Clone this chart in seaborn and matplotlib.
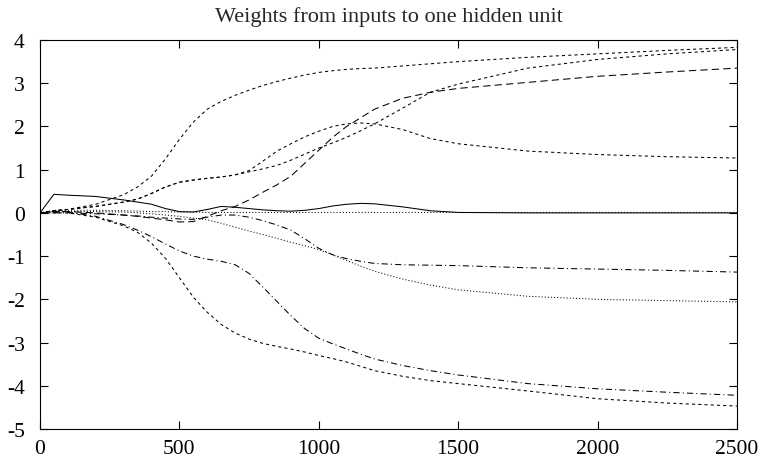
import numpy as np
import pandas as pd
import seaborn as sns
import matplotlib
matplotlib.use("Agg")
import matplotlib.pyplot as plt
from matplotlib.ticker import FuncFormatter

# training epochs (x) and the weights
epochs = [0, 50, 100, 200, 300, 350, 400, 450, 500, 550, 600, 650, 700, 750,
          800, 850, 900, 950, 1000, 1050, 1100, 1150, 1200, 1300, 1400, 1500,
          1750, 2000, 2250, 2500]

w_a = [0, 0.05, 0.08, 0.2, 0.42, 0.6, 0.85, 1.25, 1.7, 2.1, 2.4, 2.58, 2.72, 2.84,
       2.95, 3.04, 3.12, 3.19, 3.25, 3.29, 3.32, 3.34, 3.35, 3.4, 3.45, 3.5,
       3.6, 3.68, 3.76, 3.83]
w_b = [0, 0.05, 0.08, 0.15, 0.25, 0.32, 0.45, 0.6, 0.71, 0.76, 0.8, 0.83, 0.88, 0.98,
       1.2, 1.43, 1.6, 1.76, 1.89, 2.0, 2.06, 2.08, 2.06, 1.93, 1.72, 1.6,
       1.43, 1.35, 1.3, 1.27]
w_c = [0, 0.05, 0.08, 0.15, 0.25, 0.32, 0.45, 0.6, 0.71, 0.76, 0.8, 0.83, 0.88, 0.95,
       1.02, 1.1, 1.22, 1.36, 1.5, 1.62, 1.75, 1.9, 2.06, 2.42, 2.79, 2.98,
       3.35, 3.55, 3.68, 3.78]
w_d = [0, 0.03, 0.03, 0, -0.05, -0.08, -0.12, -0.16, -0.21, -0.2, -0.08, 0.05, 0.15, 0.3,
       0.48, 0.65, 0.85, 1.15, 1.45, 1.75, 2.0, 2.2, 2.4, 2.65, 2.79, 2.88,
       3.02, 3.16, 3.26, 3.35]
w_e = [0, 0.43, 0.41, 0.38, 0.3, 0.25, 0.2, 0.1, 0.03, 0.02, 0.08, 0.15, 0.13, 0.1,
       0.07, 0.05, 0.04, 0.06, 0.1, 0.16, 0.2, 0.22, 0.21, 0.14, 0.05, 0.01,
       0, 0, 0, 0]
w_f = [0, 0.06, 0.06, 0.06, 0.05, 0.04, 0.03, 0.03, 0.02, 0.02, 0.01, 0.01, 0.01, 0.01,
       0.01, 0.01, 0.01, 0.01, 0.01, 0.01, 0.01, 0.01, 0.01, 0.01, 0.01, 0.01,
       0.01, 0.01, 0.01, 0.01]
w_g = [0, 0.03, 0.03, 0.03, 0.02, 0, -0.02, -0.05, -0.08, -0.12, -0.16, -0.24, -0.33, -0.42,
       -0.5, -0.59, -0.68, -0.76, -0.85, -0.97, -1.1, -1.23, -1.35, -1.53, -1.67, -1.78,
       -1.93, -2.0, -2.03, -2.06]
w_h = [0, 0, 0, -0.02, -0.05, -0.07, -0.1, -0.12, -0.14, -0.15, -0.1, -0.05, -0.05, -0.1,
       -0.18, -0.28, -0.4, -0.6, -0.82, -0.97, -1.06, -1.12, -1.17, -1.2, -1.21, -1.22,
       -1.27, -1.3, -1.33, -1.37]
w_i = [0, 0.02, 0.02, -0.08, -0.27, -0.4, -0.55, -0.72, -0.88, -1.0, -1.07, -1.12, -1.2, -1.4,
       -1.72, -2.05, -2.38, -2.68, -2.9, -3.03, -3.15, -3.27, -3.38, -3.53, -3.65, -3.75,
       -3.95, -4.07, -4.15, -4.22]
w_j = [0, 0, 0, -0.1, -0.3, -0.45, -0.7, -1.05, -1.5, -1.95, -2.3, -2.58, -2.78, -2.92,
       -3.02, -3.09, -3.15, -3.22, -3.3, -3.37, -3.45, -3.55, -3.65, -3.78, -3.88, -3.95,
       -4.12, -4.3, -4.4, -4.47]

x_ticks = [0, 500, 1000, 1500, 2000, 2500]
y_ticks = [-5, -4, -3, -2, -1, 0, 1, 2, 3, 4]

SHORT = (0, (3, 3))
LONG = (0, (7, 4))
DASHDOT = (0, (6, 3, 1, 3))
DOTTED = (0, (1, 2))
series = [
    (w_a, SHORT), (w_b, SHORT), (w_c, SHORT), (w_j, SHORT),
    (w_d, LONG), (w_e, "-"), (w_f, DOTTED), (w_g, DOTTED),
    (w_h, DASHDOT), (w_i, DASHDOT),
]

sns.set_style("ticks")
plt.rcParams['font.family'] = ['Liberation Serif', 'DejaVu Serif']
plt.rcParams['font.size'] = 16

fig = plt.figure(figsize=(7.63, 4.64), dpi=100)
ax = fig.add_axes([0.0524, 0.0733, 0.9135, 0.8383])

for vals, ls in series:
    sns.lineplot(x=epochs, y=vals, ax=ax, color="black", linewidth=0.75,
                 linestyle=ls, legend=False)

ax.set_xlim(0, 2500)
ax.set_ylim(-5, 4)
ax.set_xticks(x_ticks)
ax.set_yticks(y_ticks)
ax.yaxis.set_major_formatter(FuncFormatter(lambda v, p: f"{int(v)}".replace("\u2212", "-")))
ax.tick_params(direction="in", length=6, width=0.8, top=True, right=True,
               labelsize=15.5, colors="black")
ax.tick_params(axis="x", pad=7)
ax.tick_params(axis="y", pad=11)
for s in ax.spines.values():
    s.set_linewidth(0.8)
    s.set_color("black")
ax.set_xlabel("")
ax.set_ylabel("")
ax.set_title("Weights from inputs to one hidden unit", fontsize=16, pad=14)

fig.savefig("out.png", dpi=100)
